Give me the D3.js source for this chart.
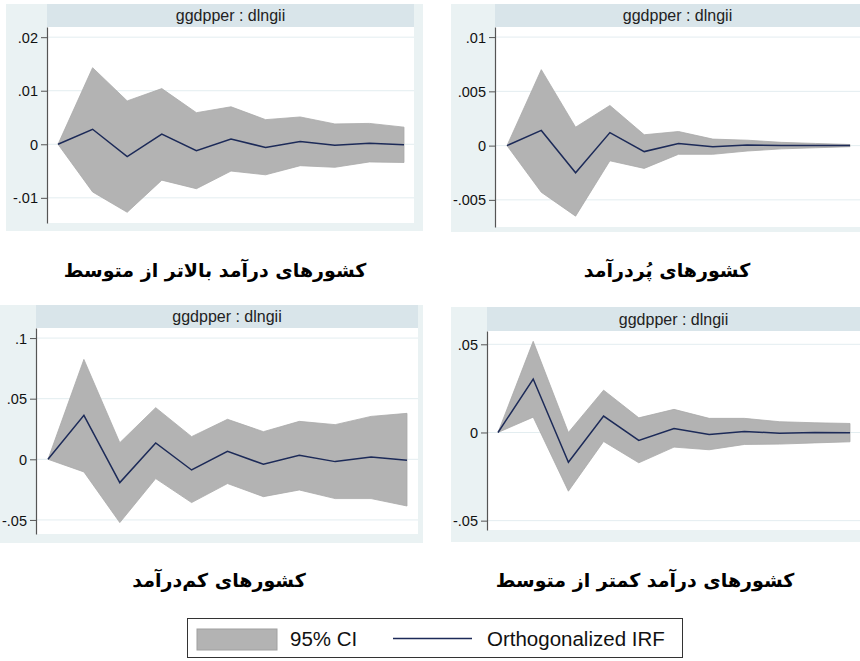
<!DOCTYPE html>
<html>
<head>
<meta charset="utf-8">
<script src="https://cdn.jsdelivr.net/npm/d3@7/dist/d3.min.js"></script>
<style>
  html, body { margin: 0; padding: 0; background: #ffffff; }
  svg { display: block; }
</style>
</head>
<body>
<svg id="chart" width="860" height="661"></svg>
<script>
// Impulse-response horizons (steps 0..10)
const steps = [0, 1, 2, 3, 4, 5, 6, 7, 8, 9, 10];

// Upper-middle income countries
const irfUpperMid = [0, 0.0028, -0.0023, 0.0019, -0.0012, 0.0010, -0.0006, 0.0005, -0.0002, 0.0002, -0.0001];
const loUpperMid  = [0, -0.0089, -0.0127, -0.0067, -0.0083, -0.0050, -0.0057, -0.0040, -0.0043, -0.0033, -0.0034];
const hiUpperMid  = [0, 0.0143, 0.0081, 0.0104, 0.0059, 0.0070, 0.0046, 0.0051, 0.0038, 0.0039, 0.0032];
const ticksUpperMid = [-0.01, 0, 0.01, 0.02];

// High income countries
const irfHigh = [0, 0.0014, -0.0025, 0.0012, -0.00055, 0.0002, -0.0001, 0.00005, 0, 0, 0];
const loHigh  = [0, -0.0043, -0.0065, -0.0014, -0.0021, -0.0008, -0.0008, -0.0005, -0.0003, -0.0002, -0.0001];
const hiHigh  = [0, 0.0070, 0.0017, 0.0037, 0.0010, 0.0013, 0.0006, 0.0005, 0.0003, 0.0002, 0.0001];
const ticksHigh = [-0.005, 0, 0.005, 0.01];

// Low income countries
const irfLow = [0, 0.0363, -0.0192, 0.0135, -0.0088, 0.0066, -0.0041, 0.0033, -0.0019, 0.0019, -0.0008];
const loLow  = [0, -0.0104, -0.0522, -0.0159, -0.0357, -0.0200, -0.0308, -0.0253, -0.0324, -0.0324, -0.0385];
const hiLow  = [0, 0.0824, 0.0137, 0.0426, 0.0187, 0.0330, 0.0228, 0.0313, 0.0286, 0.0354, 0.0379];
const ticksLow = [-0.05, 0, 0.05, 0.1];

// Lower-middle income countries
const irfLowerMid = [0, 0.0303, -0.0169, 0.0093, -0.0045, 0.0023, -0.0011, 0.0006, -0.0004, 0, -0.0002];
const loLowerMid  = [0, 0.0087, -0.0333, -0.0051, -0.0172, -0.0083, -0.0098, -0.0068, -0.0066, -0.0059, -0.0053];
const hiLowerMid  = [0, 0.0517, 0, 0.0240, 0.0083, 0.0131, 0.0080, 0.0080, 0.0061, 0.0055, 0.0051];
const ticksLowerMid = [-0.05, 0, 0.05];

const panelTitle = "ggdpper : dlngii";
const groupNames = [
  "کشورهای درآمد بالاتر از متوسط",
  "کشورهای پُردرآمد",
  "کشورهای کم\u200cدرآمد",
  "کشورهای درآمد کمتر از متوسط"
];
const legendLabels = ["95% CI", "Orthogonalized IRF"];

// Panel layout: outer box, plot box, subtitle strip height, first/last step x, value domain
const panels = [
  { irf: irfUpperMid, lo: loUpperMid, hi: hiUpperMid, ticks: ticksUpperMid, name: groupNames[0],
    outer: [6, 4, 423, 231], plot: [47, 27, 414, 223], head: 23, xr: [58, 404], dom: [-0.0147, 0.0219], nameXY: [215, 270] },
  { irf: irfHigh, lo: loHigh, hi: hiHigh, ticks: ticksHigh, name: groupNames[1],
    outer: [451, 4, 880, 232], plot: [495, 27, 880, 227], head: 23, xr: [507, 850], dom: [-0.0075, 0.01093], nameXY: [667, 270] },
  { irf: irfLow, lo: loLow, hi: hiLow, ticks: ticksLow, name: groupNames[2],
    outer: [-10, 305, 423, 543], plot: [36, 328, 418, 534], head: 23, xr: [48, 407], dom: [-0.0616, 0.1083], nameXY: [219, 580] },
  { irf: irfLowerMid, lo: loLowerMid, hi: hiLowerMid, ticks: ticksLowerMid, name: groupNames[3],
    outer: [451, 307, 880, 542], plot: [487, 331, 880, 530], head: 24, xr: [498, 850], dom: [-0.0553, 0.05754], nameXY: [645, 580] }
];

const svg = d3.select("#chart");
const W = +svg.attr("width");
// Stata-style labels: drop the leading zero (".01", "-.005")
const fmtTick = v => v === 0 ? "0" : String(v).replace(/^(-?)0\./, "$1.");

panels.forEach(p => {
  const g = svg.append("g");
  const [ox0, oy0, ox1, oy1] = p.outer;
  const [px0, py0, px1, py1] = p.plot;

  // outer panel background
  g.append("rect").attr("x", ox0).attr("y", oy0).attr("width", ox1 - ox0).attr("height", oy1 - oy0)
    .attr("fill", "#eaf2f3");
  // plot region
  g.append("rect").attr("x", px0).attr("y", py0).attr("width", px1 - px0).attr("height", py1 - py0)
    .attr("fill", "#ffffff");
  // subtitle strip
  g.append("rect").attr("x", px0).attr("y", py0 - p.head).attr("width", px1 - px0).attr("height", p.head)
    .attr("fill", "#d9e5ea");
  g.append("text").attr("x", (px0 + Math.min(px1, W)) / 2)
    .attr("y", py0 - p.head / 2 + 5.5)
    .attr("text-anchor", "middle")
    .attr("font-family", "Liberation Sans, Arial, sans-serif")
    .attr("font-size", 16).attr("fill", "#222")
    .text(panelTitle);

  const x = d3.scaleLinear().domain([0, 10]).range(p.xr);
  const y = d3.scaleLinear().domain(p.dom).range([py1, py0]);

  // gridlines
  g.selectAll("line.grid").data(p.ticks).enter().append("line")
    .attr("x1", px0).attr("x2", px1)
    .attr("y1", d => y(d)).attr("y2", d => y(d))
    .attr("stroke", "#e3edf0").attr("stroke-width", 1);

  // confidence band
  const area = d3.area().x((d, i) => x(steps[i])).y0((d, i) => y(p.lo[i])).y1((d, i) => y(p.hi[i]));
  g.append("path").datum(steps).attr("d", area)
    .attr("fill", "#b3b3b3").attr("stroke", "#a9a9a9").attr("stroke-width", 0.8);

  // IRF line
  const line = d3.line().x((d, i) => x(steps[i])).y((d, i) => y(p.irf[i]));
  g.append("path").datum(steps).attr("d", line)
    .attr("fill", "none").attr("stroke", "#1c2a58").attr("stroke-width", 1.5);

  // y axis
  const axis = d3.axisLeft(y).tickValues(p.ticks).tickFormat(fmtTick).tickSize(6).tickSizeOuter(0);
  const ag = g.append("g").attr("transform", `translate(${px0},0)`).call(axis);
  ag.select(".domain").attr("stroke", "#555").attr("stroke-width", 1.2);
  ag.selectAll(".tick line").attr("stroke", "#555");
  ag.selectAll(".tick text").attr("font-family", "Liberation Sans, Arial, sans-serif")
    .attr("font-size", 14.5).attr("fill", "#111").attr("x", -9).attr("dy", "0.35em");

  // group name
  svg.append("text").attr("x", p.nameXY[0]).attr("y", p.nameXY[1]).attr("dy", "0.35em")
    .attr("text-anchor", "middle")
    .attr("font-family", "DejaVu Sans, sans-serif").attr("font-weight", "bold")
    .attr("font-size", 19).attr("fill", "#000")
    .text(p.name);
});

// legend
const lg = svg.append("g");
lg.append("rect").attr("x", 187.5).attr("y", 618.5).attr("width", 495).attr("height", 39)
  .attr("fill", "#fff").attr("stroke", "#333").attr("stroke-width", 1);
lg.append("rect").attr("x", 197).attr("y", 629).attr("width", 80).attr("height", 21)
  .attr("fill", "#b3b3b3").attr("stroke", "#a0a0a0").attr("stroke-width", 1);
lg.append("text").attr("x", 290).attr("y", 646)
  .attr("font-family", "Liberation Sans, Arial, sans-serif").attr("font-size", 20.5).attr("fill", "#111")
  .text(legendLabels[0]);
lg.append("line").attr("x1", 393).attr("x2", 472).attr("y1", 638.5).attr("y2", 638.5)
  .attr("stroke", "#1c2a58").attr("stroke-width", 1.5);
lg.append("text").attr("x", 487).attr("y", 646)
  .attr("font-family", "Liberation Sans, Arial, sans-serif").attr("font-size", 20.5).attr("fill", "#111")
  .text(legendLabels[1]);
</script>
</body>
</html>
